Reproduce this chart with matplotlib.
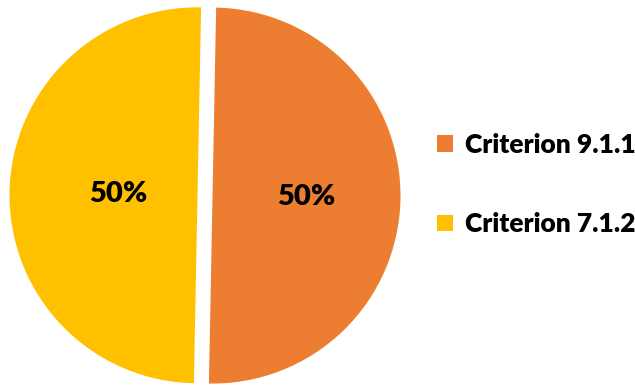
import matplotlib.pyplot as plt

plt.rcParams['font.family'] = ['Lato', 'DejaVu Sans']

labels = ["Criterion 9.1.1", "Criterion 7.1.2"]
values = [50, 50]
colors = ["#ED7D31", "#FFC000"]

fig = plt.figure(figsize=(6.35, 3.87), dpi=100)
# pie axes: center ~ (205, 195) px, radius ~188 px
ax = fig.add_axes([0.012, -0.015, 0.6217, 1.020])

wedges, texts, autotexts = ax.pie(
    values, colors=colors, startangle=88.9, counterclock=False,
    explode=[0.04, 0.04], autopct="%d%%", pctdistance=0.5,
    wedgeprops=dict(linewidth=0),
    textprops=dict(fontsize=21, fontweight="heavy", color="black"),
)
# label placement as in original (yellow label a bit nearer the centre)
scale = [1.0, 0.85]
for t, s in zip(autotexts, scale):
    x, y = t.get_position()
    t.set_position((x * s, y * s))

ax.set_xlim(-1.05, 1.05)
ax.set_ylim(-1.05, 1.05)
ax.set_aspect("equal")
ax.axis("off")

leg = fig.legend(wedges, labels, loc="center left", bbox_to_anchor=(0.688, 0.523),
                 frameon=False, handlelength=0.6, handleheight=0.6, handletextpad=0.45,
                 labelspacing=2.1, borderaxespad=0, borderpad=0,
                 prop=dict(size=19, weight="heavy"))

fig.savefig("out.png", dpi=100)
